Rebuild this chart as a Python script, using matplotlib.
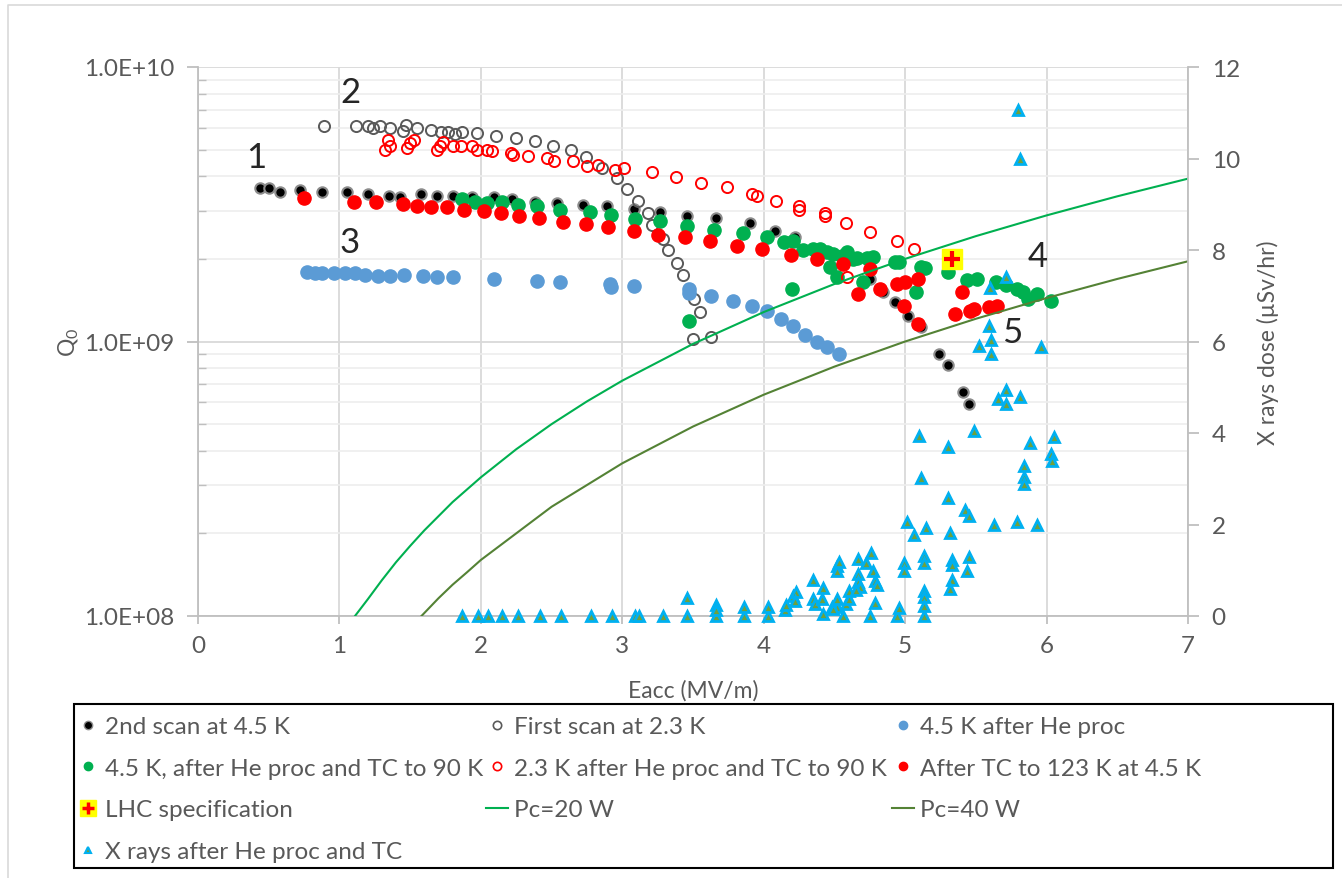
import matplotlib
matplotlib.use('Agg')
import matplotlib.pyplot as plt
from matplotlib.lines import Line2D
from matplotlib.patches import Rectangle
from matplotlib.ticker import LogLocator, NullFormatter

plt.rcParams['font.family'] = ['Lato', 'DejaVu Sans']
plt.rcParams['mathtext.default'] = 'regular'

# ---- data ----
# 2nd scan at 4.5 K
e_black = [0.44, 0.50, 0.58, 0.72, 0.88, 1.05, 1.20, 1.35, 1.43, 1.58, 1.69, 1.80, 1.94, 2.09,
           2.22, 2.38, 2.54, 2.72, 2.89, 3.08, 3.27, 3.46, 3.66, 3.90, 4.08, 4.22, 4.75, 4.84,
           4.93, 5.02, 5.11, 5.24, 5.30, 5.41, 5.45]
q_black = [3.62e9, 3.62e9, 3.50e9, 3.56e9, 3.50e9, 3.50e9, 3.44e9, 3.39e9, 3.36e9, 3.44e9, 3.39e9,
           3.39e9, 3.36e9, 3.36e9, 3.31e9, 3.22e9, 3.20e9, 3.14e9, 3.12e9, 3.04e9, 2.96e9, 2.87e9,
           2.82e9, 2.70e9, 2.53e9, 2.40e9, 1.69e9, 1.51e9, 1.39e9, 1.24e9, 1.13e9, 9.0e8, 8.2e8,
           6.55e8, 5.92e8]

# first scan at 2.3 K
e_first = [0.89, 1.12, 1.20, 1.24, 1.29, 1.36, 1.45, 1.47, 1.55, 1.65, 1.72, 1.77, 1.82, 1.87,
           1.97, 2.11, 2.25, 2.38, 2.51, 2.64, 2.74, 2.86, 2.96, 3.03, 3.11, 3.18, 3.21, 3.29,
           3.32, 3.39, 3.43, 3.47, 3.51, 3.55, 3.50, 3.63]
q_first = [6.10e9, 6.10e9, 6.10e9, 6.0e9, 6.10e9, 6.0e9, 5.85e9, 6.15e9, 6.0e9, 5.89e9, 5.80e9,
           5.80e9, 5.70e9, 5.80e9, 5.75e9, 5.61e9, 5.51e9, 5.37e9, 5.15e9, 4.99e9, 4.70e9, 4.29e9,
           3.94e9, 3.60e9, 3.25e9, 2.94e9, 2.66e9, 2.36e9, 2.15e9, 1.93e9, 1.75e9, 1.55e9, 1.43e9,
           1.28e9, 1.02e9, 1.04e9]

# 4.5 K after He proc
e_blue = [0.77, 0.83, 0.88, 0.96, 1.04, 1.11, 1.18, 1.27, 1.36, 1.46, 1.59, 1.69, 1.80, 2.09,
          2.40, 2.56, 2.91, 2.92, 3.08, 3.47, 3.47, 3.63, 3.78, 3.92, 4.02, 4.12, 4.21, 4.29,
          4.38, 4.45, 4.53]
q_blue = [1.79e9, 1.78e9, 1.78e9, 1.78e9, 1.78e9, 1.78e9, 1.75e9, 1.73e9, 1.73e9, 1.75e9, 1.73e9,
          1.72e9, 1.72e9, 1.69e9, 1.66e9, 1.65e9, 1.62e9, 1.58e9, 1.59e9, 1.55e9, 1.50e9, 1.47e9,
          1.41e9, 1.35e9, 1.29e9, 1.21e9, 1.14e9, 1.06e9, 1.0e9, 9.55e8, 9.0e8]

# 4.5 K, after He proc and TC to 90 K
e_green = [1.87, 1.96, 2.04, 2.15, 2.26, 2.40, 2.56, 2.77, 2.92, 3.09, 3.27, 3.46, 3.65, 3.85,
           4.02, 4.14, 4.21, 4.28, 4.35, 4.40, 4.45, 4.49, 4.55, 4.59, 4.47, 4.52, 4.63, 4.66,
           4.73, 4.77, 4.93, 4.96, 5.11, 5.14, 5.08, 4.70, 4.20, 3.47, 5.30, 5.44, 5.51, 5.64,
           5.71, 5.79, 5.83, 5.93, 5.87, 6.03]
q_green = [3.31e9, 3.22e9, 3.20e9, 3.22e9, 3.14e9, 3.12e9, 3.01e9, 2.96e9, 2.89e9, 2.79e9, 2.75e9,
           2.63e9, 2.55e9, 2.48e9, 2.40e9, 2.30e9, 2.32e9, 2.15e9, 2.17e9, 2.17e9, 2.12e9, 2.08e9,
           2.05e9, 2.12e9, 1.87e9, 1.72e9, 2.0e9, 2.02e9, 2.01e9, 2.03e9, 1.95e9, 1.95e9, 1.87e9,
           1.85e9, 1.51e9, 1.65e9, 1.55e9, 1.19e9, 1.79e9, 1.68e9, 1.69e9, 1.65e9, 1.61e9, 1.55e9,
           1.51e9, 1.49e9, 1.43e9, 1.40e9]

# 2.3 K after He proc and TC to 90 K
e_red_open = [1.32, 1.34, 1.36, 1.48, 1.50, 1.53, 1.69, 1.71, 1.73, 1.80, 1.86, 1.94, 1.97, 2.04,
              2.08, 2.21, 2.23, 2.33, 2.47, 2.52, 2.65, 2.75, 2.83, 2.95, 3.01, 3.21, 3.38, 3.56,
              3.74, 3.92, 3.95, 4.09, 4.25, 4.25, 4.43, 4.43, 4.58, 4.75, 4.94, 5.06, 4.59]
q_red_open = [4.99e9, 5.42e9, 5.15e9, 5.07e9, 5.29e9, 5.42e9, 4.99e9, 5.15e9, 5.33e9, 5.15e9,
              5.15e9, 5.15e9, 4.99e9, 4.99e9, 4.94e9, 4.86e9, 4.78e9, 4.74e9, 4.66e9, 4.55e9,
              4.55e9, 4.36e9, 4.40e9, 4.22e9, 4.29e9, 4.14e9, 3.97e9, 3.78e9, 3.66e9, 3.44e9,
              3.39e9, 3.25e9, 3.12e9, 3.01e9, 2.94e9, 2.87e9, 2.70e9, 2.51e9, 2.32e9, 2.17e9, 1.72e9]

# After TC to 123 K at 4.5 K
e_red = [0.75, 1.10, 1.26, 1.45, 1.55, 1.65, 1.76, 1.88, 2.02, 2.14, 2.27, 2.41, 2.58, 2.74, 2.90,
         3.08, 3.25, 3.44, 3.62, 3.81, 3.99, 4.19, 4.38, 4.56, 4.75, 4.67, 4.82, 4.94, 5.00, 5.09,
         4.99, 5.09, 5.40, 5.35, 5.46, 5.49, 5.59, 5.65]
q_red = [3.33e9, 3.22e9, 3.22e9, 3.17e9, 3.12e9, 3.09e9, 3.09e9, 3.01e9, 2.99e9, 2.94e9, 2.87e9,
         2.82e9, 2.72e9, 2.68e9, 2.61e9, 2.53e9, 2.44e9, 2.40e9, 2.32e9, 2.23e9, 2.17e9, 2.07e9,
         2.0e9, 1.92e9, 1.84e9, 1.49e9, 1.55e9, 1.62e9, 1.65e9, 1.69e9, 1.35e9, 1.16e9, 1.51e9,
         1.26e9, 1.29e9, 1.31e9, 1.34e9, 1.35e9]

# LHC specification
e_lhc = [5.33]
q_lhc = [2.0e9]

# Pc curves
e_pc20 = [1.11, 1.2, 1.3, 1.4, 1.5, 1.6, 1.8, 2.0, 2.25, 2.5, 2.75, 3.0, 3.5, 4.0, 4.5, 5.0, 5.5,
          6.0, 6.5, 7.0]
q_pc20 = [1.0e8, 1.15e8, 1.35e8, 1.57e8, 1.8e8, 2.05e8, 2.6e8, 3.2e8, 4.05e8, 5.0e8, 6.05e8,
          7.2e8, 9.8e8, 1.28e9, 1.62e9, 2.0e9, 2.42e9, 2.88e9, 3.38e9, 3.92e9]
e_pc40 = [1.58, 1.7, 1.8, 1.9, 2.0, 2.25, 2.5, 3.0, 3.5, 4.0, 4.5, 5.0, 5.5, 6.0, 6.5, 7.0]
q_pc40 = [1.0e8, 1.16e8, 1.3e8, 1.44e8, 1.6e8, 2.0e8, 2.5e8, 3.6e8, 4.9e8, 6.4e8, 8.1e8, 1.0e9,
          1.21e9, 1.44e9, 1.69e9, 1.96e9]

# X rays after He proc and TC (right axis)
e_xray = [1.87, 1.98, 2.05, 2.15, 2.26, 2.42, 2.57, 2.78, 2.93, 3.09, 3.12, 3.29, 3.46, 3.66, 3.86,
          4.03, 4.56, 4.75, 4.94, 5.13,
          3.46, 3.66, 3.66, 3.86, 4.03, 4.15, 4.16, 4.21, 4.23, 4.22, 4.35, 4.42, 4.35, 4.36, 4.41,
          4.42, 4.48, 4.52, 4.52, 4.52, 4.52, 4.49, 4.53, 4.58, 4.60, 4.60, 4.67, 4.67, 4.72, 4.76,
          4.77, 4.79, 4.80, 4.67, 4.68, 4.65, 4.79, 4.96, 4.99, 4.99, 5.01, 5.06, 5.10, 5.11, 5.13,
          5.13, 5.13, 5.13, 5.13, 5.15, 5.30, 5.30, 5.32, 5.33, 5.33, 5.33, 5.32, 5.42, 5.45, 5.45,
          5.44, 5.49, 5.63, 5.79, 5.84, 5.84, 5.84, 5.88, 5.93, 6.03, 6.04, 6.05, 5.66, 5.71, 5.71,
          5.81, 5.71, 5.60, 5.59, 5.61, 5.52, 5.61, 5.96, 5.80, 5.81]
d_xray = [0, 0, 0, 0, 0, 0, 0, 0, 0, 0, 0, 0, 0, 0, 0,
          0, 0, 0, 0, 0,
          0.39, 0.25, 0.14, 0.19, 0.19, 0.13, 0.23, 0.44, 0.52, 0.33, 0.79, 0.61, 0.37, 0.26, 0.37,
          0.04, 0.20, 0.20, 0.37, 1.10, 0.99, 0.15, 1.18, 0.26, 0.37, 0.55, 1.25, 0.92, 1.16, 1.38,
          0.98, 0.77, 0.68, 0.74, 0.63, 0.57, 0.28, 0.17, 1.16, 0.98, 2.05, 1.77, 3.93, 3.01, 1.31,
          1.16, 0.55, 0.41, 0.22, 1.92, 2.58, 3.69, 1.81, 1.22, 1.11, 0.79, 0.59, 2.32, 2.19, 1.29,
          0.98, 4.04, 1.99, 2.05, 3.28, 3.04, 2.89, 3.78, 1.99, 3.54, 3.39, 3.91, 4.74, 4.94, 4.63,
          4.79, 7.41, 7.17, 6.34, 6.03, 5.90, 5.73, 5.88, 11.06, 9.99]

labels = ['2nd scan at 4.5 K', 'First scan at 2.3 K', '4.5 K after He proc',
          '4.5 K, after He proc and TC to 90 K', '2.3 K after He proc and TC to 90 K',
          'After TC to 123 K at 4.5 K', 'LHC specification', 'Pc=20 W', 'Pc=40 W',
          'X rays after He proc and TC']

# ---- figure ----
W, H = 1342, 879
fig = plt.figure(figsize=(W / 100, H / 100), dpi=100)
ax = fig.add_axes([198 / W, 1 - 617 / H, 990 / W, 549 / H])
ax.set_yscale('log')
ax.set_xlim(0, 7)
ax.set_ylim(1e8, 1e10)

txt = '#595959'
axc = '#bfbfbf'

ax.set_xticks(range(0, 8))
ax.set_yticks([1e8, 1e9, 1e10])
ax.set_yticklabels(['1.0E+08', '1.0E+09', '1.0E+10'])
ax.yaxis.set_minor_locator(LogLocator(base=10, subs=range(2, 10)))
ax.yaxis.set_minor_formatter(NullFormatter())
ax.grid(which='major', color='#d9d9d9', lw=1.3, zorder=0)
ax.grid(which='minor', axis='y', color='#eeeeee', lw=1.2, zorder=0)
ax.set_axisbelow(True)

for s in ['top', 'right']:
    ax.spines[s].set_visible(False)
for s in ['left', 'bottom']:
    ax.spines[s].set_color(axc)
    ax.spines[s].set_linewidth(1.3)
ax.tick_params(axis='y', which='major', direction='out', length=8, color=axc, width=1.3,
               labelsize=17.5, labelcolor=txt, pad=9)
ax.tick_params(axis='y', which='minor', direction='in', length=6, color=axc, width=1.0)
ax.tick_params(axis='x', direction='out', length=6, color=axc, width=1.3,
               labelsize=17.5, labelcolor=txt, pad=8)
ax.set_xlabel('Eacc (MV/m)', fontsize=16.5, color=txt, labelpad=16)
ax.set_ylabel('Q$_0$', fontsize=16.5, color=txt, labelpad=2)

h_black, = ax.plot(e_black, q_black, 'o', ms=7.5, mfc='black', mec='#8c8c8c', mew=1.5, zorder=3)
h_first, = ax.plot(e_first, q_first, 'o', ms=8, mfc='none', mec='#595959', mew=1.4, zorder=3)
h_blue, = ax.plot(e_blue, q_blue, 'o', ms=9.5, mfc='#5b9bd5', mec='#5b9bd5', zorder=3)
h_green, = ax.plot(e_green, q_green, 'o', ms=9.5, mfc='#00b050', mec='#00b050', zorder=3)
h_ropen, = ax.plot(e_red_open, q_red_open, 'o', ms=8, mfc='none', mec='#ff0000', mew=1.4, zorder=3)
h_red, = ax.plot(e_red, q_red, 'o', ms=9.5, mfc='#ff0000', mec='#ff0000', zorder=3)
h_lhc1, = ax.plot(e_lhc, q_lhc, 's', ms=15, mfc='#ffff00', mec='#ffff00', zorder=4)
h_lhc2, = ax.plot(e_lhc, q_lhc, '+', ms=12, mec='#ff0000', mew=3, zorder=5)
h_pc20, = ax.plot(e_pc20, q_pc20, '-', color='#00b050', lw=1.5, zorder=3)
h_pc40, = ax.plot(e_pc40, q_pc40, '-', color='#548235', lw=1.5, zorder=3)

# secondary axis for x rays
ax2 = ax.twinx()
ax2.set_ylim(0, 12)
ax2.set_yticks(range(0, 13, 2))
for s in ['top', 'left', 'bottom']:
    ax2.spines[s].set_visible(False)
ax2.spines['right'].set_color(axc)
ax2.spines['right'].set_linewidth(1.3)
ax2.tick_params(axis='y', direction='out', length=8, color=axc, width=1.3,
                labelsize=17.5, labelcolor=txt, pad=9)
ax2.set_ylabel('X rays dose (µSv/hr)', fontsize=16.5, color=txt, labelpad=12)
h_x, = ax2.plot(e_xray, d_xray, '^', ms=7, mfc='#70a03c', mec='#00b0f0', mew=2, zorder=5,
                clip_on=False)

# annotations
num_kw = dict(fontsize=25, color='#262626', ha='center', va='center')
ax.text(0.41, 4.7e9, '1', **num_kw)
ax.text(1.075, 8.1e9, '2', **num_kw)
ax.text(1.075, 2.3e9, '3', **num_kw)
ax.text(5.94, 2.05e9, '4', **num_kw)
ax.text(5.76, 1.08e9, '5', **num_kw)

# legend: three fixed-width columns like the spreadsheet legend
lg_mk = dict(ls='none', marker='o', ms=6)
columns = [
    ([Line2D([], [], mfc='black', mec='#8c8c8c', mew=1, **lg_mk),
      Line2D([], [], mfc='#00b050', mec='#00b050', **lg_mk),
      (Line2D([], [], ls='none', marker='s', ms=11, mfc='#ffff00', mec='#ffff00'),
       Line2D([], [], ls='none', marker='+', ms=9, mec='#ff0000', mew=2.5)),
      Line2D([], [], ls='none', marker='^', ms=5, mfc='#70a03c', mec='#00b0f0', mew=1.5)],
     [labels[0], labels[3], labels[6], labels[9]], 77),
    ([Line2D([], [], mfc='none', mec='#595959', mew=1.2, **lg_mk),
      Line2D([], [], mfc='none', mec='#ff0000', mew=1.2, **lg_mk),
      Line2D([], [], color='#00b050', lw=1.5)],
     [labels[1], labels[4], labels[7]], 486),
    ([Line2D([], [], mfc='#5b9bd5', mec='#5b9bd5', **lg_mk),
      Line2D([], [], mfc='#ff0000', mec='#ff0000', **lg_mk),
      Line2D([], [], color='#548235', lw=1.5)],
     [labels[2], labels[5], labels[8]], 892),
]
for hs, ls_, x0 in columns:
    fig.legend(hs, ls_, loc='upper left', bbox_to_anchor=(x0 / W, 1 - 717 / H),
               frameon=False, fontsize=17.5, labelcolor=txt, handlelength=0.9,
               handletextpad=0.25, labelspacing=0.85, borderpad=0, borderaxespad=0)

fig.patches.append(Rectangle((74 / W, 1 - 869 / H), (1333 - 74) / W, (869 - 705) / H,
                             transform=fig.transFigure, fill=False, ec='black', lw=1.5))
fig.lines.append(Line2D([8 / W, 8 / W, 1], [0, 1 - 6 / H, 1 - 6 / H],
                        transform=fig.transFigure, color='#d9d9d9', lw=1.2))

plt.savefig('out.png', dpi=100)
